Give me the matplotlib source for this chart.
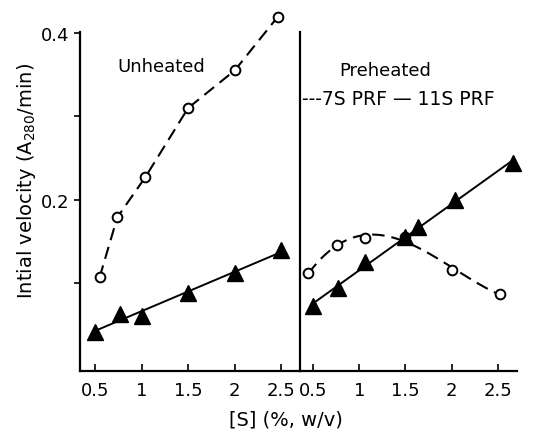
import matplotlib
matplotlib.use("Agg")
import matplotlib.pyplot as plt
import numpy as np

plt.rcParams['font.family'] = ['DejaVu Sans']
plt.rcParams['lines.scale_dashes'] = False

# unheated panel
unh_7s_x = [0.55, 0.74, 1.04, 1.5, 2.0, 2.46]
unh_7s_y = [0.107, 0.179, 0.227, 0.310, 0.355, 0.419]
unh_11s_x = [0.5, 0.77, 1.0, 1.5, 2.0, 2.5]
unh_11s_y = [0.042, 0.063, 0.061, 0.089, 0.112, 0.140]

# preheated panel (circle at 1.5 sits under the triangles)
pre_7s_x = [0.45, 0.76, 1.06, 1.5, 2.0, 2.52]
pre_7s_y = [0.112, 0.146, 0.154, 0.155, 0.116, 0.087]
pre_11s_x = [0.5, 0.77, 1.06, 1.5, 1.64, 2.03, 2.66]
pre_11s_y = [0.073, 0.095, 0.125, 0.156, 0.167, 0.200, 0.244]

xticks = [0.5, 1, 1.5, 2, 2.5]
xticklabels = ['0.5', '1', '1.5', '2', '2.5']

fig = plt.figure(figsize=(5.5, 4.35), dpi=100)
ax1 = fig.add_axes([80/550, 63/435, 220/550, 339/435])
ax2 = fig.add_axes([300/550, 63/435, 217/550, 339/435], sharey=ax1)

circ = dict(marker='o', ms=7, mfc='white', mec='black', mew=1.4,
            color='black', lw=1.5, dashes=(9, 5), clip_on=False)
tri = dict(marker='^', ms=11, color='black', ls='none', clip_on=False)


def trend(ax, xs, ys, x0, x1):
    k, b = np.polyfit(xs, ys, 1)
    xx = np.array([x0, x1])
    ax.plot(xx, k*xx + b, color='black', lw=1.4, clip_on=False)


# left
ax1.plot(unh_7s_x, unh_7s_y, **circ)
trend(ax1, unh_11s_x, unh_11s_y, 0.5, 2.5)
ax1.plot(unh_11s_x, unh_11s_y, **tri)

# right: smooth dashed curve fitted to circles
c = np.polyfit(pre_7s_x, pre_7s_y, 3)
xs = np.linspace(min(pre_7s_x), max(pre_7s_x), 100)
ax2.plot(xs, np.polyval(c, xs), color='black', lw=1.5, dashes=(9, 5))
ax2.plot(pre_7s_x, pre_7s_y, ls='none', marker='o', ms=7, mfc='white',
         mec='black', mew=1.4)
trend(ax2, pre_11s_x, pre_11s_y, 0.5, 2.63)
ax2.plot(pre_11s_x, pre_11s_y, **tri)

ax1.set_xlim(0.34, 2.70)
ax2.set_xlim(0.36, 2.705)
ax1.set_ylim(-0.005, 0.401)

for ax in (ax1, ax2):
    for s in ('top', 'right'):
        ax.spines[s].set_visible(False)
    for s in ('left', 'bottom'):
        ax.spines[s].set_linewidth(1.6)
    ax.set_xticks(xticks)
    ax.set_xticklabels(xticklabels)
    ax.tick_params(axis='x', direction='in', length=5, width=1.2,
                   labelsize=13, pad=7)

ax1.set_yticks([0.2, 0.4])
ax1.set_yticklabels(['0.2', '0.4'])
ax1.set_yticks([0.1, 0.3], minor=True)
ax1.tick_params(axis='y', which='both', direction='out', length=4,
                width=1.2, labelsize=13)
ax2.tick_params(axis='y', which='both', left=False, labelleft=False)

ax1.text(0.74, 0.360, 'Unheated', fontsize=13, va='center')
ax2.text(0.78, 0.355, 'Preheated', fontsize=13, va='center')
ax2.text(0.38, 0.321, '---7S PRF \u2014 11S PRF', fontsize=13.5,
         va='center')

fig.text(27/550, 1 - 181/435, 'Intial velocity (A$_{280}$/min)',
         rotation=90, ha='center', va='center', fontsize=14)
fig.text(286/550, 1 - 420/435, '[S] (%, w/v)', ha='center', va='center',
         fontsize=14)

fig.savefig('out.png', dpi=100)
